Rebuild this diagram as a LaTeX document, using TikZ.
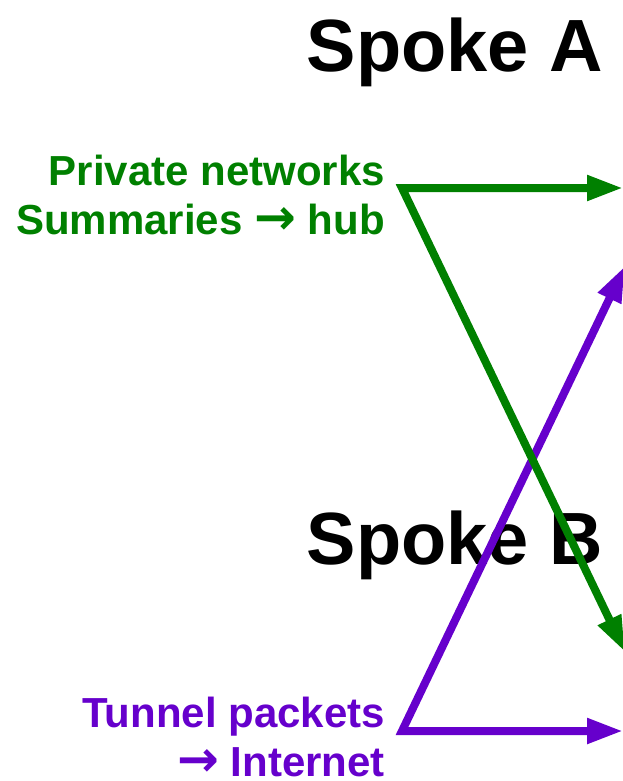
\documentclass[tikz,border=0pt]{standalone}
\usepackage{fontspec}
\setmainfont{Liberation Sans}
\newfontfamily\arrowfont{DejaVu Sans}
\usetikzlibrary{arrows.meta, positioning}
\definecolor{privgreen}{RGB}{0,128,0}
\definecolor{tunpurple}{RGB}{102,0,204}
\newcommand{\toarrow}{{\arrowfont\bfseries\fontsize{50}{49}\selectfont →}}

\begin{document}
\begin{tikzpicture}[
	x = 1pt, y = -1pt,
	spoke/.style={font=\bfseries\fontsize{74}{80}\selectfont, inner sep=0pt, anchor=base east},
	note/.style={font=\bfseries\fontsize{42}{49}\selectfont, inner sep=0pt, anchor=base east},
	route/.style={line width=8pt, line join=miter,
		{Triangle[length=36pt,width=24pt]}-{Triangle[length=36pt,width=24pt]}},
	]
	\useasboundingbox (0,0) rectangle (622,781);
	
	\node (spokea) [spoke] at (603,72) {Spoke A};
	\node (spokeb) [spoke] at (603,564) {Spoke B};
	\node (privnet) [note, text=privgreen] at (385,185) {Private networks};
	\node (summ) [note, text=privgreen] at ([yshift=-49pt]privnet.base east) {Summaries \toarrow{} hub};
	\node (tunnel) [note, text=tunpurple] at (385,727) {Tunnel packets};
	\node (inet) [note, text=tunpurple] at ([yshift=-49pt]tunnel.base east) {\toarrow{} Internet};
	
	\coordinate (ajoin) at (402,188);
	\coordinate (ahub) at (623,188);
	\coordinate (adiag) at (625,652);
	\coordinate (bjoin) at (402,731);
	\coordinate (bnet) at (623,731);
	\coordinate (bdiag) at (625,266);
	
	% tunnel first, private routes on top
	\draw[route, tunpurple] (bdiag) -- (bjoin) -- (bnet);
	\draw[route, privgreen] (ahub) -- (ajoin) -- (adiag);
\end{tikzpicture}
\end{document}
